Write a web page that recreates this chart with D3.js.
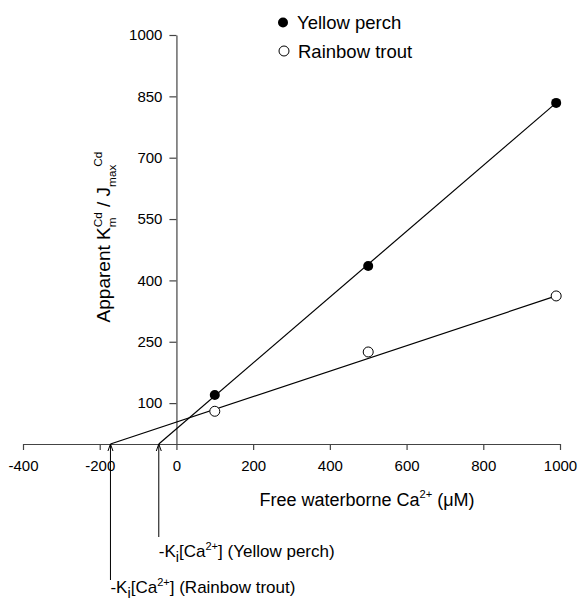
<!DOCTYPE html>
<html>
<head>
<meta charset="utf-8">
<script src="https://cdn.jsdelivr.net/npm/d3@7"></script>
<style>
  body { margin: 0; background: #fff; }
  svg { display: block; font-family: "Liberation Sans", Arial, sans-serif; }
</style>
</head>
<body>
<svg id="chart" width="578" height="600"></svg>
<script>
// values
var calcium = [100, 500, 990];              // free waterborne Ca2+ (uM)
var yellowPerch = [120, 435, 834];          // apparent Km/Jmax
var rainbowTrout = [80, 225, 362];
var fitIntercept = [-46, -172];             // -Ki[Ca2+] : perch, trout
var fitEnd = [834, 362];                    // fitted value at the last point
var xTicks = [-400, -200, 0, 200, 400, 600, 800, 1000];
var yTicks = [100, 250, 400, 550, 700, 850, 1000];

var svg = d3.select("#chart");

var x = d3.scaleLinear().domain([-400, 1000]).range([23, 560]),
    y = d3.scaleLinear().domain([0, 1000]).range([444, 35]);

// rich text helper: parts of {t, mode: "n"|"sub"|"sup", back}
function richText(text, parts, size, small) {
    var shift = 0, prevLen = 0;
    small = small || 0.62;
    parts.forEach(function (p) {
        var target = p.mode === "sub" ? 0.3 * size : (p.mode === "sup" ? -0.42 * size : 0);
        var ts = text.append("tspan")
            .text(p.t)
            .attr("dy", target - shift)
            .attr("font-size", p.mode === "n" ? size : size * (p.scale || small));
        if (p.back) ts.attr("dx", -prevLen);
        if (p.dx) ts.attr("dx", p.dx);
        shift = target;
        prevLen = ts.node().getComputedTextLength();
    });
}

// axes
svg.append("g")
    .attr("transform", "translate(0," + y(0) + ")")
    .call(d3.axisBottom(x).tickValues(xTicks).tickSize(6).tickSizeOuter(0)
        .tickPadding(10).tickFormat(function (d) { return String(d); }));

svg.append("g")
    .attr("transform", "translate(" + x(0) + ",0)")
    .call(d3.axisLeft(y).tickValues(yTicks).tickSize(7).tickSizeOuter(0)
        .tickPadding(7).tickFormat(function (d) { return String(d); }));

svg.selectAll(".domain, .tick line").attr("stroke", "#444").attr("stroke-width", 1.2);
svg.selectAll(".tick text").attr("font-size", 15).attr("fill", "#000")
    .attr("font-family", "Liberation Sans, Arial, sans-serif");

// fitted lines
var series = [yellowPerch, rainbowTrout];
series.forEach(function (s, i) {
    svg.append("line")
        .attr("x1", x(fitIntercept[i])).attr("y1", y(0))
        .attr("x2", x(calcium[calcium.length - 1])).attr("y2", y(fitEnd[i]))
        .attr("stroke", "#000").attr("stroke-width", 1.2);
});

// points
svg.selectAll(".perch")
    .data(calcium)
    .enter().append("circle")
    .attr("class", "perch")
    .attr("cx", function (d) { return x(d); })
    .attr("cy", function (d, i) { return y(yellowPerch[i]); })
    .attr("r", 5)
    .attr("fill", "#000");

svg.selectAll(".trout")
    .data(calcium)
    .enter().append("circle")
    .attr("class", "trout")
    .attr("cx", function (d) { return x(d); })
    .attr("cy", function (d, i) { return y(rainbowTrout[i]); })
    .attr("r", 5)
    .attr("fill", "#fff")
    .attr("stroke", "#000")
    .attr("stroke-width", 1);

// legend
svg.append("circle").attr("cx", 283).attr("cy", 22.5).attr("r", 5).attr("fill", "#000");
svg.append("text").attr("x", 297).attr("y", 29).attr("font-size", 18.5).text("Yellow perch");
svg.append("circle").attr("cx", 284).attr("cy", 51).attr("r", 5)
    .attr("fill", "#fff").attr("stroke", "#000");
svg.append("text").attr("x", 298).attr("y", 57.5).attr("font-size", 18.5).text("Rainbow trout");

// axis titles
var xt = svg.append("text").attr("x", 367).attr("y", 506).attr("text-anchor", "middle");
richText(xt, [
    {t: "Free waterborne Ca", mode: "n"},
    {t: "2+", mode: "sup"},
    {t: " (\u03bcM)", mode: "n"}
], 18);

var yt = svg.append("text")
    .attr("transform", "translate(110,237) rotate(-90)")
    .attr("text-anchor", "middle");
richText(yt, [
    {t: "Apparent K", mode: "n"},
    {t: "m", mode: "sub"},
    {t: "Cd", mode: "sup", back: true},
    {t: " / J", mode: "n"},
    {t: "max", mode: "sub"},
    {t: "Cd", mode: "sup", dx: -2}
], 19);

// -Ki arrows and labels
var arrowBottom = [537, 580];
var labels = ["(Yellow perch)", "(Rainbow trout)"];
var labelY = [557, 593];
fitIntercept.forEach(function (k, i) {
    var ax = x(k), top = y(0);
    svg.append("line")
        .attr("x1", ax).attr("x2", ax)
        .attr("y1", top).attr("y2", arrowBottom[i])
        .attr("stroke", "#000").attr("stroke-width", 1);
    svg.append("path")
        .attr("d", "M" + (ax - 2.5) + "," + (top + 7) + "L" + ax + "," + top + "L" + (ax + 2.5) + "," + (top + 7))
        .attr("fill", "none").attr("stroke", "#000").attr("stroke-width", 1);
    var t = svg.append("text").attr("x", ax).attr("y", labelY[i]);
    richText(t, [
        {t: "-K", mode: "n"},
        {t: "i", mode: "sub", scale: 0.85},
        {t: "[Ca", mode: "n"},
        {t: "2+", mode: "sup", scale: 0.65},
        {t: "] " + labels[i], mode: "n"}
    ], 17);
});
</script>
</body>
</html>
